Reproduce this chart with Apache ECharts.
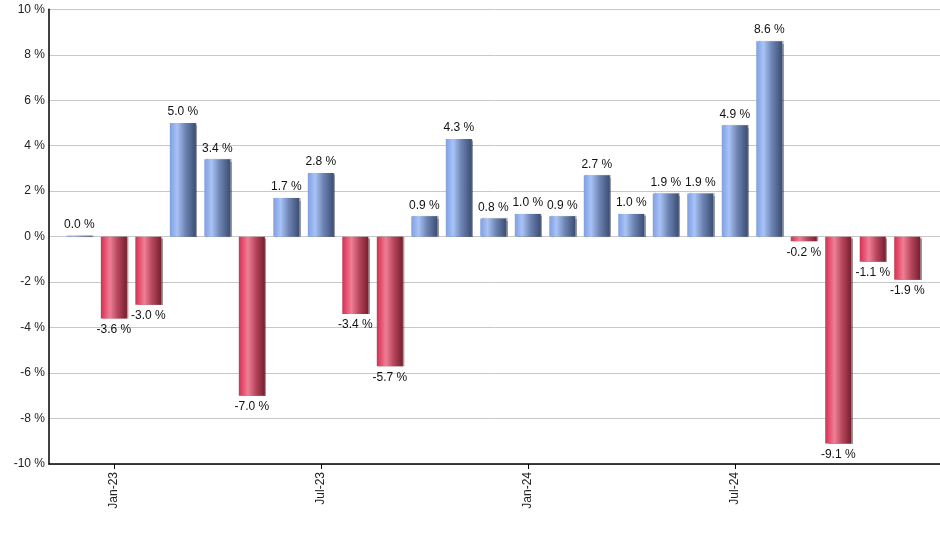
<!DOCTYPE html>
<html>
<head>
<meta charset="utf-8">
<script src="https://cdn.jsdelivr.net/npm/echarts@6/dist/echarts.min.js"></script>
<style>html,body{margin:0;padding:0;background:#fff;}#c{width:940px;height:550px;}</style>
</head>
<body>
<div id="c"></div>
<script>
const months = ['Dec-22','Jan-23','Feb-23','Mar-23','Apr-23','May-23','Jun-23','Jul-23','Aug-23','Sep-23','Oct-23','Nov-23','Dec-23','Jan-24','Feb-24','Mar-24','Apr-24','May-24','Jun-24','Jul-24','Aug-24','Sep-24','Oct-24','Nov-24','Dec-24'];
const values = [0.04, -3.6, -3.0, 5.0, 3.4, -7.0, 1.7, 2.8, -3.4, -5.7, 0.9, 4.3, 0.8, 1.0, 0.9, 2.7, 1.0, 1.9, 1.9, 4.9, 8.6, -0.2, -9.1, -1.1, -1.9];
const tickLabels = ['Jan-23','Jul-23','Jan-24','Jul-24'];
const yTicks = [-10,-8,-6,-4,-2,0,2,4,6,8,10];

const tickIdx = tickLabels.map(t => months.indexOf(t));

const blueGrad = new echarts.graphic.LinearGradient(0,0,1,0,[
  {offset:0,color:'#7d9fe6'},
  {offset:0.28,color:'#a9c3f5'},
  {offset:0.6,color:'#6d84b3'},
  {offset:1,color:'#3b4d72'}
]);
const redGrad = new echarts.graphic.LinearGradient(0,0,1,0,[
  {offset:0,color:'#d92c50'},
  {offset:0.35,color:'#ee7f95'},
  {offset:0.65,color:'#b7465c'},
  {offset:1,color:'#74202f'}
]);

const data = values.map((v,i) => ({
  value:[i,v],
  itemStyle:{color: v>=0 ? blueGrad : redGrad},
  label:{position: v>=0 ? 'top' : 'bottom'}
}));

const chart = echarts.init(document.getElementById('c'), null, {renderer:'canvas'});
chart.setOption({
  animation:false,
  grid:{left:49, right:0, top:9.3, bottom:86, containLabel:false},
  xAxis:{
    type:'value', min:-0.88, max:24.95,
    splitLine:{show:false},
    axisLine:{show:true, onZero:false, lineStyle:{color:'#000', width:1.5}},
    axisTick:{show:true, length:5, lineStyle:{color:'#000'}, customValues:tickIdx},
    axisLabel:{customValues:tickIdx, rotate:90, color:'#222', fontSize:12, fontFamily:'Liberation Sans, Arial', margin:8,
      formatter:v => months[Math.round(v)] || ''}
  },
  yAxis:{
    type:'value', min:-10, max:10, interval:2,
    axisLine:{show:true, onZero:false, lineStyle:{color:'#000', width:1.5}},
    axisTick:{show:false},
    splitLine:{show:true, lineStyle:{color:'#c8c8c8', width:1}},
    axisLabel:{color:'#222', fontSize:12, fontFamily:'Liberation Sans, Arial', margin:4,
      formatter:v => v + ' %'}
  },
  series:[{
    type:'bar',
    data:data,
    barWidth:26,
    itemStyle:{shadowColor:'rgba(0,0,0,0.4)', shadowOffsetX:1.5, shadowOffsetY:0, shadowBlur:1},
    label:{show:true, color:'#111', fontSize:12, fontFamily:'Liberation Sans, Arial', distance:5,
      formatter:p => p.value[1].toFixed(1) + ' %'}
  }]
});
</script>
</body>
</html>
